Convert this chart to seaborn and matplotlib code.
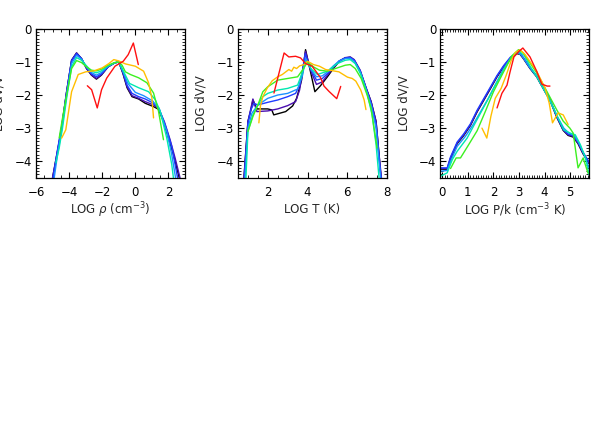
import matplotlib
matplotlib.use("Agg")
import matplotlib.pyplot as plt
import numpy as np
import pandas as pd
import seaborn as sns
from matplotlib.ticker import MultipleLocator

# ---------------- data ----------------
series = ["black", "purple", "blue", "ltblue", "teal", "green", "orange", "red"]
colors = ["#000000", "#4a0fb0", "#1f3cff", "#1a90ff", "#00e8b0", "#3cf020", "#ffbe00", "#ff1010"]

# Panel 1: LOG rho
rho_black_x = [-5.0, -4.7, -4.45, -4.15, -3.85, -3.55, -3.25, -2.95, -2.65, -2.35, -2.05, -1.65, -1.25, -1.0, -0.75, -0.5, -0.2, 0.2, 0.6, 1.1, 1.4, 1.7, 2.0, 2.3, 2.65]
rho_black_y = [-4.5, -3.7, -3.0, -1.9, -0.95, -0.73, -0.9, -1.2, -1.4, -1.52, -1.4, -1.15, -1.03, -1.0, -1.35, -1.78, -2.05, -2.12, -2.25, -2.35, -2.43, -2.8, -3.3, -3.8, -4.5]
rho_purple_x = [-5.0, -4.7, -4.45, -4.15, -3.85, -3.55, -3.25, -2.95, -2.65, -2.35, -2.05, -1.65, -1.25, -1.0, -0.75, -0.5, -0.2, 0.2, 0.6, 1.1, 1.4, 1.75, 2.1, 2.4, 2.7]
rho_purple_y = [-4.5, -3.68, -2.98, -1.9, -0.95, -0.73, -0.9, -1.19, -1.39, -1.5, -1.39, -1.15, -1.03, -1.0, -1.33, -1.75, -2.02, -2.1, -2.2, -2.3, -2.4, -2.8, -3.35, -3.9, -4.5]
rho_blue_x = [-4.97, -4.7, -4.45, -4.15, -3.85, -3.55, -3.25, -2.95, -2.65, -2.35, -2.05, -1.65, -1.25, -1.0, -0.75, -0.5, -0.2, 0.2, 0.6, 1.1, 1.4, 1.8, 2.2, 2.55]
rho_blue_y = [-4.5, -3.65, -2.95, -1.9, -0.97, -0.75, -0.9, -1.18, -1.36, -1.45, -1.36, -1.15, -1.03, -1.0, -1.3, -1.7, -1.95, -2.05, -2.12, -2.25, -2.38, -2.9, -3.55, -4.5]
rho_ltblue_x = [-4.9, -4.7, -4.45, -4.15, -3.85, -3.55, -3.25, -2.95, -2.65, -2.35, -2.05, -1.65, -1.25, -1.0, -0.75, -0.45, 0.0, 0.5, 1.05, 1.45, 1.9, 2.2, 2.43]
rho_ltblue_y = [-4.5, -3.8, -3.05, -2.0, -1.05, -0.8, -0.92, -1.15, -1.32, -1.4, -1.32, -1.13, -1.03, -1.0, -1.28, -1.65, -1.92, -2.02, -2.18, -2.42, -3.1, -3.8, -4.5]
rho_teal_x = [-4.8, -4.6, -4.4, -4.15, -3.85, -3.55, -3.25, -2.95, -2.65, -2.35, -2.05, -1.65, -1.25, -1.0, -0.75, -0.35, 0.2, 0.8, 1.2, 1.5, 1.9, 2.2, 2.3]
rho_teal_y = [-4.05, -3.6, -3.0, -2.1, -1.15, -0.87, -0.95, -1.12, -1.28, -1.33, -1.27, -1.12, -1.03, -1.0, -1.25, -1.65, -1.78, -1.9, -2.14, -2.49, -3.3, -4.1, -4.5]
rho_green_x = [-4.6, -4.4, -4.15, -3.85, -3.55, -3.25, -2.95, -2.65, -2.35, -2.05, -1.65, -1.25, -1.0, -0.8, -0.6, -0.3, 0.2, 0.7, 1.1, 1.4, 1.7]
rho_green_y = [-3.3, -2.7, -2.0, -1.2, -0.96, -1.02, -1.15, -1.25, -1.27, -1.22, -1.1, -1.02, -1.0, -1.1, -1.3, -1.38, -1.48, -1.63, -1.94, -2.49, -3.35]
rho_orange_x = [-4.45, -4.2, -3.85, -3.45, -3.0, -2.5, -2.0, -1.6, -1.3, -1.0, -0.6, 0.0, 0.5, 0.8, 1.0, 1.1]
rho_orange_y = [-3.3, -3.05, -1.9, -1.38, -1.3, -1.27, -1.18, -1.05, -0.93, -0.97, -1.06, -1.13, -1.28, -1.63, -2.09, -2.69]
rho_red_x = [-2.9, -2.64, -2.3, -2.04, -1.73, -1.23, -0.73, -0.43, -0.12, 0.18]
rho_red_y = [-1.72, -1.84, -2.39, -1.84, -1.49, -1.13, -0.98, -0.78, -0.43, -1.08]

# Panel 2: LOG T
t_black_x = [0.8, 1.0, 1.15, 1.25, 1.45, 2.0, 2.2, 2.3, 2.9, 3.25, 3.45, 3.7, 3.9, 4.15, 4.37, 4.65, 5.0, 5.3, 5.6, 5.9, 6.15, 6.35, 6.65, 6.95, 7.2, 7.45, 7.6, 7.7]
t_black_y = [-4.5, -2.8, -2.45, -2.15, -2.42, -2.42, -2.45, -2.6, -2.5, -2.33, -2.1, -1.55, -0.63, -1.3, -1.9, -1.72, -1.45, -1.2, -0.98, -0.88, -0.86, -0.95, -1.28, -1.8, -2.2, -2.8, -3.8, -4.5]
t_purple_x = [0.8, 1.0, 1.15, 1.25, 1.45, 2.0, 2.5, 3.0, 3.4, 3.6, 3.75, 3.9, 4.15, 4.45, 4.75, 5.0, 5.3, 5.6, 5.9, 6.15, 6.35, 6.65, 6.95, 7.2, 7.45, 7.6, 7.72]
t_purple_y = [-4.5, -2.8, -2.4, -2.12, -2.5, -2.48, -2.42, -2.32, -2.2, -1.85, -1.3, -0.68, -1.25, -1.68, -1.6, -1.4, -1.18, -0.97, -0.87, -0.85, -0.93, -1.25, -1.78, -2.2, -2.8, -3.8, -4.5]
t_blue_x = [0.82, 1.0, 1.15, 1.3, 1.5, 2.0, 2.5, 3.0, 3.4, 3.6, 3.75, 3.88, 4.15, 4.45, 4.75, 5.0, 5.3, 5.6, 5.9, 6.15, 6.35, 6.65, 6.95, 7.2, 7.45, 7.6, 7.7]
t_blue_y = [-4.5, -2.85, -2.45, -2.25, -2.3, -2.22, -2.15, -2.05, -1.95, -1.7, -1.25, -0.75, -1.2, -1.55, -1.5, -1.35, -1.15, -0.97, -0.88, -0.87, -0.95, -1.27, -1.8, -2.25, -2.9, -3.9, -4.5]
t_ltblue_x = [0.85, 1.0, 1.2, 1.5, 2.0, 2.5, 3.0, 3.5, 3.75, 3.9, 4.2, 4.45, 4.75, 5.0, 5.3, 5.6, 5.9, 6.15, 6.35, 6.65, 6.95, 7.2, 7.45, 7.6, 7.68]
t_ltblue_y = [-4.5, -3.0, -2.55, -2.3, -2.1, -2.0, -1.95, -1.82, -1.4, -0.9, -1.25, -1.45, -1.42, -1.3, -1.12, -0.97, -0.9, -0.89, -0.98, -1.3, -1.85, -2.3, -3.0, -4.0, -4.5]
t_teal_x = [0.9, 1.0, 1.25, 1.5, 1.75, 2.0, 2.5, 3.0, 3.5, 3.75, 3.92, 4.2, 4.5, 5.0, 5.5, 5.9, 6.15, 6.4, 6.7, 7.0, 7.25, 7.45, 7.6]
t_teal_y = [-4.5, -3.1, -2.6, -2.3, -2.05, -1.95, -1.85, -1.8, -1.7, -1.3, -0.98, -1.22, -1.38, -1.28, -1.05, -0.95, -0.93, -1.05, -1.4, -1.95, -2.6, -3.5, -4.5]
t_green_x = [1.0, 1.25, 1.5, 1.75, 2.0, 2.5, 3.0, 3.5, 3.8, 4.0, 4.3, 4.6, 5.0, 5.5, 5.9, 6.15, 6.4, 6.7, 7.0, 7.2, 7.35, 7.5]
t_green_y = [-3.1, -2.65, -2.3, -1.9, -1.75, -1.55, -1.5, -1.45, -1.2, -1.0, -1.15, -1.25, -1.28, -1.18, -1.1, -1.08, -1.2, -1.5, -2.0, -2.4, -3.0, -3.6]
t_orange_x = [1.55, 1.63, 1.75, 1.97, 2.22, 2.5, 2.73, 3.06, 3.2, 3.31, 3.45, 3.6, 3.83, 4.0, 4.3, 4.6, 4.91, 5.2, 5.58, 6.01, 6.25, 6.43, 6.68, 6.85, 6.94]
t_orange_y = [-2.84, -2.33, -2.05, -1.79, -1.57, -1.45, -1.38, -1.23, -1.28, -1.16, -1.2, -1.12, -1.08, -0.98, -1.08, -1.13, -1.23, -1.26, -1.3, -1.46, -1.5, -1.58, -1.85, -2.15, -2.44]
t_red_x = [2.31, 2.82, 3.06, 3.4, 3.65, 3.9, 4.23, 4.66, 4.83, 5.08, 5.47, 5.67]
t_red_y = [-1.94, -0.73, -0.85, -0.83, -0.88, -1.05, -1.13, -1.48, -1.73, -1.89, -2.11, -1.74]

# Panel 3: LOG P/k
p_black_x = [-0.07, 0.19, 0.32, 0.58, 0.84, 1.1, 1.36, 1.62, 1.88, 2.14, 2.4, 2.66, 2.91, 3.04, 3.17, 3.43, 3.69, 3.95, 4.21, 4.47, 4.73, 4.92, 5.12, 5.31, 5.5, 5.74]
p_black_y = [-4.24, -4.24, -3.92, -3.47, -3.22, -2.92, -2.51, -2.16, -1.81, -1.45, -1.15, -0.9, -0.75, -0.77, -0.9, -1.2, -1.45, -1.81, -2.16, -2.66, -3.07, -3.22, -3.27, -3.47, -3.77, -4.07]
p_purple_x = [-0.07, 0.19, 0.32, 0.58, 0.84, 1.1, 1.36, 1.62, 1.88, 2.14, 2.4, 2.66, 2.91, 3.04, 3.17, 3.43, 3.69, 3.95, 4.21, 4.47, 4.73, 4.92, 5.12, 5.31, 5.5, 5.74]
p_purple_y = [-4.22, -4.22, -3.9, -3.45, -3.2, -2.9, -2.49, -2.14, -1.79, -1.43, -1.13, -0.88, -0.73, -0.75, -0.88, -1.18, -1.43, -1.79, -2.14, -2.64, -3.05, -3.2, -3.25, -3.45, -3.75, -4.05]
p_blue_x = [-0.07, 0.19, 0.32, 0.58, 0.84, 1.1, 1.36, 1.62, 1.88, 2.14, 2.4, 2.66, 2.91, 3.04, 3.17, 3.43, 3.69, 3.95, 4.21, 4.47, 4.73, 4.92, 5.12, 5.31, 5.5, 5.74]
p_blue_y = [-4.2, -4.2, -3.87, -3.42, -3.17, -2.87, -2.46, -2.11, -1.76, -1.41, -1.11, -0.86, -0.72, -0.74, -0.87, -1.17, -1.42, -1.78, -2.13, -2.63, -3.04, -3.18, -3.22, -3.42, -3.72, -4.02]
p_ltblue_x = [-0.07, 0.19, 0.35, 0.58, 0.9, 1.2, 1.5, 1.8, 2.1, 2.4, 2.7, 2.95, 3.1, 3.4, 3.7, 3.95, 4.2, 4.5, 4.75, 4.95, 5.15, 5.35, 5.55, 5.74]
p_ltblue_y = [-4.3, -4.28, -3.95, -3.55, -3.25, -2.9, -2.5, -2.1, -1.65, -1.2, -0.85, -0.72, -0.8, -1.15, -1.45, -1.8, -2.15, -2.65, -3.0, -3.15, -3.2, -3.45, -3.8, -4.2]
p_teal_x = [-0.07, 0.19, 0.39, 0.58, 0.97, 1.36, 1.88, 2.4, 2.79, 2.98, 3.2, 3.45, 3.7, 3.95, 4.2, 4.5, 4.75, 5.0, 5.2, 5.4, 5.6, 5.74]
p_teal_y = [-4.45, -4.35, -3.95, -3.7, -3.3, -2.74, -1.99, -1.23, -0.78, -0.68, -0.8, -1.15, -1.45, -1.8, -2.15, -2.65, -3.05, -3.15, -3.2, -3.5, -3.9, -4.4]
p_green_x = [0.32, 0.54, 0.71, 1.03, 1.36, 1.68, 2.0, 2.33, 2.72, 2.98, 3.17, 3.69, 4.02, 4.47, 4.73, 4.99, 5.12, 5.31, 5.51, 5.7]
p_green_y = [-4.22, -3.9, -3.9, -3.5, -3.08, -2.5, -1.9, -1.4, -0.82, -0.63, -0.73, -1.33, -1.79, -2.44, -2.79, -3.0, -3.15, -4.2, -3.9, -4.36]
p_orange_x = [1.55, 1.74, 1.9, 2.07, 2.3, 2.5, 2.7, 2.85, 3.04, 3.24, 3.69, 4.02, 4.18, 4.31, 4.53, 4.73, 4.92]
p_orange_y = [-3.0, -3.3, -2.64, -2.1, -1.8, -1.4, -0.95, -0.72, -0.63, -0.78, -1.28, -1.79, -2.24, -2.84, -2.54, -2.6, -2.89]
p_red_x = [2.14, 2.33, 2.53, 2.65, 2.8, 3.0, 3.15, 3.43, 3.69, 3.89, 4.1, 4.21]
p_red_y = [-2.39, -1.95, -1.7, -1.3, -0.85, -0.68, -0.58, -0.85, -1.28, -1.67, -1.73, -1.73]

xlabels = [r"LOG $\rho$ (cm$^{-3}$)", "LOG T (K)", r"LOG P/k (cm$^{-3}$ K)"]
ylabel = "LOG dV/V"


def frame(xs, ys):
    parts = []
    for name, x, y in zip(series, xs, ys):
        parts.append(pd.DataFrame({"x": x, "y": y, "series": name}))
    return pd.concat(parts, ignore_index=True)


df_rho = frame([rho_black_x, rho_purple_x, rho_blue_x, rho_ltblue_x, rho_teal_x, rho_green_x, rho_orange_x, rho_red_x],
               [rho_black_y, rho_purple_y, rho_blue_y, rho_ltblue_y, rho_teal_y, rho_green_y, rho_orange_y, rho_red_y])
df_t = frame([t_black_x, t_purple_x, t_blue_x, t_ltblue_x, t_teal_x, t_green_x, t_orange_x, t_red_x],
             [t_black_y, t_purple_y, t_blue_y, t_ltblue_y, t_teal_y, t_green_y, t_orange_y, t_red_y])
df_p = frame([p_black_x, p_purple_x, p_blue_x, p_ltblue_x, p_teal_x, p_green_x, p_orange_x, p_red_x],
             [p_black_y, p_purple_y, p_blue_y, p_ltblue_y, p_teal_y, p_green_y, p_orange_y, p_red_y])

# ---------------- style ----------------
sns.set_style("ticks")
plt.rcParams.update({
    "font.family": ["DejaVu Sans"],
    "mathtext.fontset": "dejavusans",
    "font.size": 8.5,
    "axes.linewidth": 0.9,
    "xtick.direction": "in",
    "ytick.direction": "in",
    "xtick.top": True,
    "ytick.right": True,
    "xtick.major.size": 4.0,
    "ytick.major.size": 4.0,
    "xtick.minor.size": 2.0,
    "ytick.minor.size": 2.0,
    "xtick.major.width": 0.8,
    "ytick.major.width": 0.8,
    "xtick.minor.width": 0.6,
    "ytick.minor.width": 0.6,
    "xtick.color": "black",
    "ytick.color": "black",
    "axes.edgecolor": "black",
})

fig = plt.figure(figsize=(5.95, 4.25), dpi=100)
W, H = 595.0, 425.0
lefts = [36.0, 238.0, 440.3]
pw, ph = 149.0, 149.0
bottom_px = 177.8

xlims = [(-6.0, 3.0), (0.5, 8.0), (-0.08, 5.75)]
xminor = [0.5, 0.5, 0.1]
xticks = [[-6, -4, -2, 0, 2], [2, 4, 6, 8], [0, 1, 2, 3, 4, 5]]

for i, df in enumerate([df_rho, df_t, df_p]):
    ax = fig.add_axes([lefts[i] / W, (H - bottom_px) / H, pw / W, ph / H])
    sns.lineplot(data=df, x="x", y="y", hue="series", hue_order=series, palette=colors,
                 sort=False, estimator=None, units="series", legend=False, lw=1.0, ax=ax)
    ax.set_xlim(*xlims[i])
    ax.set_ylim(-4.5, 0)
    ax.set_xticks(xticks[i])
    ax.xaxis.set_minor_locator(MultipleLocator(xminor[i]))
    ax.set_yticks([0, -1, -2, -3, -4])
    ax.yaxis.set_minor_locator(MultipleLocator(0.1))
    ax.tick_params(axis="x", which="both", pad=6, labelsize=8.5)
    ax.tick_params(axis="y", which="both", pad=3, labelsize=8.5)
    ax.set_xlabel(xlabels[i], fontsize=8.5, va="center")
    ax.xaxis.set_label_coords(0.5, -0.215)
    ax.set_ylabel(ylabel, fontsize=8.5, va="center")
    ax.yaxis.set_label_coords(-0.245, 0.5)
    for s in ax.spines.values():
        s.set_visible(True)

fig.savefig("out.png", dpi=100)
